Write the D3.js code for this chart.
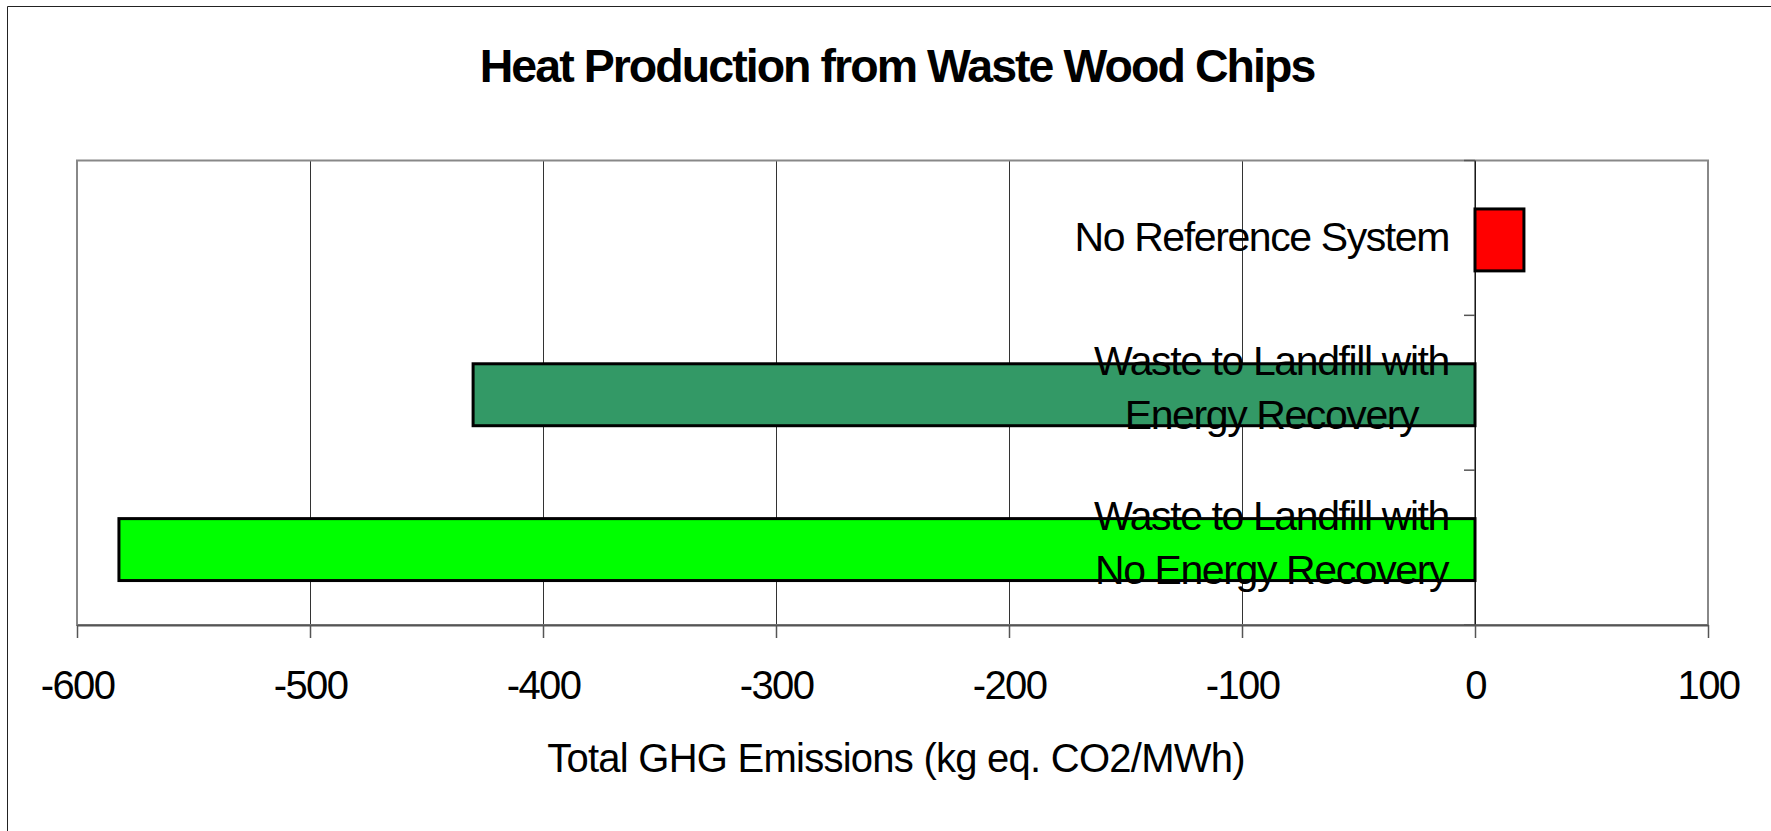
<!DOCTYPE html>
<html>
<head>
<meta charset="utf-8">
<script src="https://cdn.jsdelivr.net/npm/d3@7"></script>
<style>
  html, body { margin: 0; padding: 0; background: #fff; }
  text { font-family: Arial, "Liberation Sans", sans-serif; fill: #000; }
</style>
</head>
<body>
<div id="wrapper"></div>
<script>
// data
const categories = [
  ["No Reference System"],
  ["Waste to Landfill with", "Energy Recovery"],
  ["Waste to Landfill with", "No Energy Recovery"]
];
const values = [21, -430, -582];
const barColors = ["#ff0000", "#339966", "#00ff00"];
const xTicks = [-600, -500, -400, -300, -200, -100, 0, 100];
const chartTitle = "Heat Production from Waste Wood Chips";
const xTitle = "Total GHG Emissions (kg eq. CO2/MWh)";

const dims = {
  width: 1771,
  height: 831,
  margin: { top: 160.5, right: 63, bottom: 206, left: 77 }
};
dims.boundedWidth = dims.width - dims.margin.left - dims.margin.right;
dims.boundedHeight = dims.height - dims.margin.top - dims.margin.bottom;

const svg = d3.select("#wrapper")
  .append("svg")
  .attr("width", dims.width)
  .attr("height", dims.height);

// outer chart frame (only left + top show in the crop)
svg.append("path")
  .attr("d", `M7.5,${dims.height} V6.5 H${dims.width}`)
  .attr("fill", "none")
  .attr("stroke", "#222")
  .attr("stroke-width", 1);

svg.append("text")
  .attr("x", 897)
  .attr("y", 82)
  .attr("text-anchor", "middle")
  .style("font-size", "46.5px")
  .style("font-weight", "bold")
  .style("letter-spacing", "-1.95px")
  .text(chartTitle);

const bounds = svg.append("g")
  .attr("transform", `translate(${dims.margin.left},${dims.margin.top})`);

const xScale = d3.scaleLinear()
  .domain([-600, 100])
  .range([0, dims.boundedWidth]);

const yScale = d3.scaleBand()
  .domain(d3.range(categories.length))
  .range([0, dims.boundedHeight])
  .paddingInner(0.6)
  .paddingOuter(0.3);

// vertical gridlines
bounds.append("g")
  .call(d3.axisBottom(xScale).tickValues(xTicks).tickSize(dims.boundedHeight).tickFormat(""))
  .call(g => g.select(".domain").remove())
  .call(g => g.selectAll("line").attr("stroke", "#333").attr("stroke-width", 1));

// plot frame
bounds.append("rect")
  .attr("x", 0)
  .attr("y", 0)
  .attr("width", dims.boundedWidth)
  .attr("height", dims.boundedHeight)
  .attr("fill", "none")
  .attr("stroke", "#888")
  .attr("stroke-width", 2);

// bars (sit a touch below the band centre, as in the original)
bounds.append("g")
  .attr("transform", "translate(0,2)")
  .selectAll(".bar")
  .data(values)
  .join("rect")
  .attr("class", "bar")
  .attr("x", d => xScale(Math.min(0, d)))
  .attr("width", d => Math.abs(xScale(d) - xScale(0)))
  .attr("y", (d, i) => yScale(i))
  .attr("height", yScale.bandwidth())
  .attr("fill", (d, i) => barColors[i])
  .attr("stroke", "#000")
  .attr("stroke-width", 3);

// category axis at zero
const step = yScale.step();
const zeroX = xScale(0);
bounds.append("line")
  .attr("x1", zeroX).attr("x2", zeroX)
  .attr("y1", 0).attr("y2", dims.boundedHeight)
  .attr("stroke", "#000").attr("stroke-width", 1);
bounds.selectAll(".cat-tick")
  .data(d3.range(categories.length + 1))
  .join("line")
  .attr("class", "cat-tick")
  .attr("x1", zeroX - 11).attr("x2", zeroX)
  .attr("y1", i => i * step).attr("y2", i => i * step)
  .attr("stroke", "#555").attr("stroke-width", 1.5);

// category labels: centred block, right edge ~26px left of zero line
const labelRight = zeroX - 26;
categories.forEach((lines, i) => {
  const cy = yScale(i) + yScale.bandwidth() / 2;
  const n = lines.length;
  const t = bounds.append("text")
    .attr("text-anchor", "middle")
    .style("font-size", "41px")
    .style("letter-spacing", "-1.4px");
  const spans = lines.map((s, k) => t.append("tspan")
    .attr("y", cy + 13 + (k - (n - 1) / 2) * 54 - (n > 1 ? 4 : 0))
    .text(s));
  const maxW = d3.max(spans, sp => sp.node().getComputedTextLength());
  spans.forEach(sp => sp.attr("x", labelRight - maxW / 2));
});

// x axis
const xAxis = bounds.append("g")
  .attr("transform", `translate(0,${dims.boundedHeight})`)
  .call(d3.axisBottom(xScale).tickValues(xTicks).tickSize(13).tickSizeOuter(0).tickFormat(d3.format("d")));
xAxis.select(".domain").attr("stroke", "#555").attr("stroke-width", 2);
xAxis.selectAll(".tick line").attr("stroke", "#555").attr("stroke-width", 1.5);
xAxis.selectAll(".tick text")
  .attr("y", 74)
  .attr("dy", null)
  .attr("fill", "#000")
  .style("font-size", "40px")
  .style("letter-spacing", "-1.6px")
  .style("font-family", "Arial, 'Liberation Sans', sans-serif")
  .text(d => String(d));

svg.append("text")
  .attr("x", 896)
  .attr("y", 772)
  .attr("text-anchor", "middle")
  .style("font-size", "40px")
  .style("letter-spacing", "-0.75px")
  .text(xTitle);
</script>
</body>
</html>
